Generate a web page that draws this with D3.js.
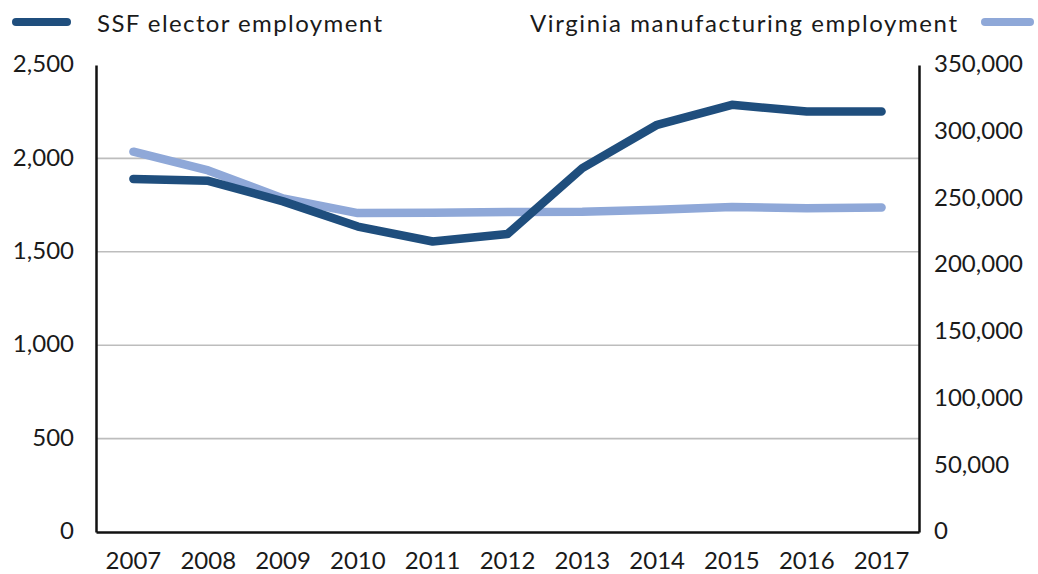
<!DOCTYPE html>
<html>
<head>
<meta charset="utf-8">
<script src="https://cdn.jsdelivr.net/npm/d3@7"></script>
<style>
  html, body { margin: 0; padding: 0; background: #fff; }
  svg { display: block; }
  text { font-family: Lato, "Open Sans", sans-serif; fill: #1a1a1a; }
</style>
</head>
<body>
<svg id="chart" width="1038" height="574"></svg>
<script>
const years = ["2007","2008","2009","2010","2011","2012","2013","2014","2015","2016","2017"];
const ssfElector = [1890, 1880, 1770, 1635, 1555, 1595, 1948, 2180, 2287, 2251, 2251];
const virginiaMfg = [285000, 271000, 250000, 239000, 239200, 239800, 240000, 241500, 243600, 242600, 243200];
const leftTicks = [0, 500, 1000, 1500, 2000, 2500];
const rightTicks = [0, 50000, 100000, 150000, 200000, 250000, 300000, 350000];
const gridTicks = [500, 1000, 1500, 2000];
const seriesNames = ["SSF elector employment", "Virginia manufacturing employment"];

const darkBlue = "#1f4e7d";
const lightBlue = "#8fa8d8";

const svg = d3.select("#chart");
const mLeft = 96, mRight = 919, mTop = 65, mBottom = 532;

const x = d3.scaleBand().domain(years).range([mLeft, mRight]);
const yL = d3.scaleLinear().domain([0, 2500]).range([mBottom, mTop]);
const yR = d3.scaleLinear().domain([0, 350000]).range([mBottom, mTop]);
const fmt = d3.format(",");

// gridlines
svg.append("g").selectAll("line").data(gridTicks).join("line")
  .attr("x1", mLeft).attr("x2", mRight)
  .attr("y1", d => yL(d)).attr("y2", d => yL(d))
  .attr("stroke", "#bdbdbd").attr("stroke-width", 1.6);

// left axis
const gL = svg.append("g").attr("transform", `translate(${mLeft},0)`)
  .call(d3.axisLeft(yL).tickValues(leftTicks).tickFormat(fmt).tickSize(0).tickPadding(22));
gL.select(".domain").attr("stroke", "#111").attr("stroke-width", 2.5);
gL.selectAll("text").attr("font-size", 24).attr("font-family", "Lato, sans-serif").attr("fill", "#1a1a1a").attr("dy", "0.28em");

// right axis
const gR = svg.append("g").attr("transform", `translate(${mRight},0)`)
  .call(d3.axisRight(yR).tickValues(rightTicks).tickFormat(fmt).tickSize(0).tickPadding(15));
gR.select(".domain").attr("stroke", "#111").attr("stroke-width", 2.5);
gR.selectAll("text").attr("font-size", 24).attr("font-family", "Lato, sans-serif").attr("fill", "#1a1a1a").attr("dy", "0.28em");

// bottom axis
const gB = svg.append("g").attr("transform", `translate(0,${mBottom})`)
  .call(d3.axisBottom(x).tickSize(0).tickPadding(20));
gB.select(".domain").attr("stroke", "#111").attr("stroke-width", 2.5);
gB.selectAll("text").attr("font-size", 24).attr("font-family", "Lato, sans-serif").attr("fill", "#1a1a1a");

const cx = d => x(d) + x.bandwidth() / 2;

// Virginia line (light)
svg.append("path")
  .datum(years.map((yr, i) => [yr, virginiaMfg[i]]))
  .attr("fill", "none").attr("stroke", lightBlue).attr("stroke-width", 8.5)
  .attr("stroke-linecap", "round").attr("stroke-linejoin", "round")
  .attr("d", d3.line().x(d => cx(d[0])).y(d => yR(d[1])));

// SSF line (dark)
svg.append("path")
  .datum(years.map((yr, i) => [yr, ssfElector[i]]))
  .attr("fill", "none").attr("stroke", darkBlue).attr("stroke-width", 8.5)
  .attr("stroke-linecap", "round").attr("stroke-linejoin", "round")
  .attr("d", d3.line().x(d => cx(d[0])).y(d => yL(d[1])));

// legend
const leg = svg.append("g");
leg.append("line").attr("x1", 16).attr("x2", 67).attr("y1", 22).attr("y2", 22)
  .attr("stroke", darkBlue).attr("stroke-width", 8).attr("stroke-linecap", "round");
leg.append("text").attr("x", 97).attr("y", 32).attr("font-size", 24)
  .attr("textLength", 285).attr("lengthAdjust", "spacing").text(seriesNames[0]);
leg.append("text").attr("x", 530).attr("y", 32).attr("font-size", 24)
  .attr("textLength", 427).attr("lengthAdjust", "spacing").text(seriesNames[1]);
leg.append("line").attr("x1", 985).attr("x2", 1030).attr("y1", 22).attr("y2", 22)
  .attr("stroke", lightBlue).attr("stroke-width", 8).attr("stroke-linecap", "round");
</script>
</body>
</html>
